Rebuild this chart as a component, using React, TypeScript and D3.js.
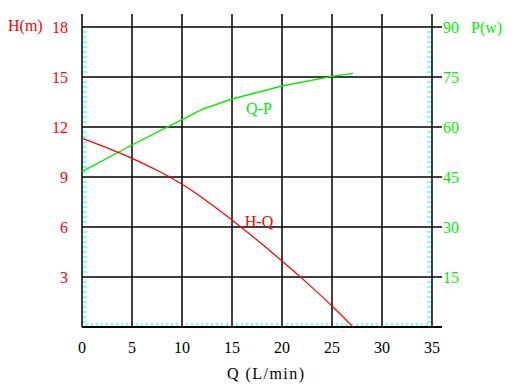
import React from 'react';
import * as d3 from 'd3';

// flow (L/min) and head (m) for the H-Q curve
const hqFlow = [0, 2.5, 5, 7.5, 10, 12.5, 15, 17.5, 20, 22.5, 25, 27.1];
const hqHead = [11.32, 10.75, 10.12, 9.4, 8.56, 7.55, 6.42, 5.22, 3.96, 2.65, 1.26, 0];

// flow (L/min) and power (w) for the Q-P curve
const qpFlow = [0, 5, 10, 12, 15, 20, 25, 27.1];
const qpPower = [46.6, 54.6, 62.2, 65.3, 68.4, 72.3, 75.2, 76.1];

const xTicks = [0, 5, 10, 15, 20, 25, 30, 35];
const hTicks = [3, 6, 9, 12, 15, 18];
const pTicks = [15, 30, 45, 60, 75, 90];

const W = 511;
const H = 388;
const left = 82, right = 432, top = 27, bottom = 327;
const axisTop = 14, axisRight = 442;

const font = '"Liberation Serif", serif';

const App = () => {
  const x = d3.scaleLinear().domain([0, 35]).range([left, right]);
  const yH = d3.scaleLinear().domain([0, 18]).range([bottom, top]);
  const yP = d3.scaleLinear().domain([0, 90]).range([bottom, top]);

  const hqLine = d3.line<number>()
    .x((d, i) => x(hqFlow[i]))
    .y(d => yH(d))
    .curve(d3.curveMonotoneX);

  const qpLine = d3.line<number>()
    .x((d, i) => x(qpFlow[i]))
    .y(d => yP(d));

  const xMinor = d3.range(0.5, 35, 0.5).filter(v => Math.abs(v % 5) > 0.01);
  const hMinor = d3.range(0.3, 18, 0.3).filter(v => Math.abs((v / 3) - Math.round(v / 3)) > 0.01);
  const pMinor = d3.range(1.5, 90, 1.5).filter(v => Math.abs((v / 15) - Math.round(v / 15)) > 0.01);

  return (
    <svg width={W} height={H} style={{ position: 'absolute', left: 0, top: 0, background: '#fff' }}>
      {/* cyan minor ticks */}
      {xMinor.map(v => (
        <line key={'xm' + v} x1={x(v)} x2={x(v)} y1={bottom} y2={bottom - 4} stroke="#00ffff" strokeWidth={1} />
      ))}
      {hMinor.map(v => (
        <line key={'hm' + v} x1={left} x2={left + 5} y1={yH(v)} y2={yH(v)} stroke="#00ffff" strokeWidth={1} />
      ))}
      {pMinor.map(v => (
        <line key={'pm' + v} x1={right} x2={right - 5} y1={yP(v)} y2={yP(v)} stroke="#00ffff" strokeWidth={1} />
      ))}

      {/* grid */}
      {hTicks.map(v => (
        <line key={'hg' + v} x1={left} x2={axisRight} y1={yH(v)} y2={yH(v)} stroke="#000" strokeWidth={1.5} />
      ))}
      {xTicks.map(v => (
        <line key={'xg' + v} x1={x(v)} x2={x(v)} y1={axisTop} y2={bottom} stroke="#000" strokeWidth={1.5} />
      ))}
      <line x1={left} x2={axisRight} y1={bottom} y2={bottom} stroke="#000" strokeWidth={2} />

      {/* curves */}
      <path d={qpLine(qpPower) || ''} fill="none" stroke="#00ee00" strokeWidth={1.4} />
      <path d={hqLine(hqHead) || ''} fill="none" stroke="#ff0000" strokeWidth={1.2} />

      {/* left axis labels */}
      {hTicks.map(v => (
        <text key={'hl' + v} x={68} y={yH(v)} dy="0.35em" textAnchor="end" fill="#ff0000" fontFamily={font} fontSize={16}>{v}</text>
      ))}
      <text x={8} y={25} dy="0.35em" fill="#ff0000" fontFamily={font} fontSize={16}>H(m)</text>

      {/* right axis labels */}
      {pTicks.map(v => (
        <text key={'pl' + v} x={443} y={yP(v)} dy="0.35em" fill="#00ee00" fontFamily={font} fontSize={16}>{v}</text>
      ))}
      <text x={471} y={27} dy="0.35em" fill="#00ee00" fontFamily={font} fontSize={16}>P(w)</text>

      {/* bottom axis labels */}
      {xTicks.map(v => (
        <text key={'xl' + v} x={x(v)} y={347} dy="0.35em" textAnchor="middle" fill="#000" fontFamily={font} fontSize={16}>{v}</text>
      ))}
      <text x={227} y={373} dy="0.35em" fill="#000" fontFamily={font} fontSize={16} textLength={77} lengthAdjust="spacing">Q (L/min)</text>

      {/* curve labels */}
      <text x={x(17.7)} y={yP(65.5)} dy="0.35em" textAnchor="middle" fill="#00ee00" fontFamily={font} fontSize={16}>Q-P</text>
      <text x={x(17.7)} y={yH(6.35)} dy="0.35em" textAnchor="middle" fill="#ff0000" fontFamily={font} fontSize={16}>H-Q</text>
    </svg>
  );
};

export default App;
